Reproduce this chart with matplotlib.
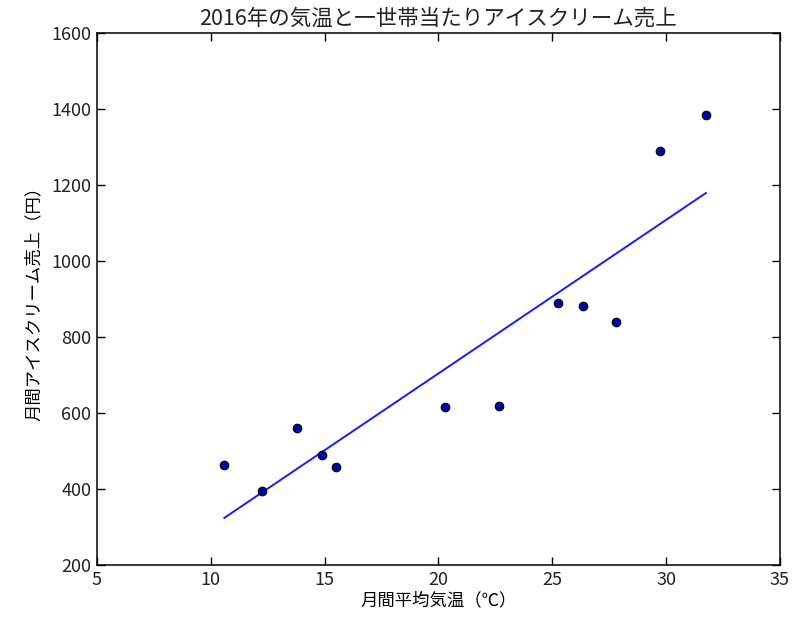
import matplotlib
matplotlib.use('Agg')
import matplotlib.pyplot as plt

plt.rcParams['font.family'] = ['Noto Sans CJK JP', 'DejaVu Sans']
plt.rcParams['text.color'] = '#222222'
plt.rcParams['xtick.labelcolor'] = '#222222'
plt.rcParams['ytick.labelcolor'] = '#222222'

# monthly mean temperature (C) and ice cream sales per household (yen), 2016
temps = [10.6, 12.25, 13.8, 14.9, 15.5, 20.3, 22.65, 25.25, 26.35, 27.8, 29.75, 31.75]
sales = [463, 395, 561, 490, 458, 616, 618, 889, 882, 839, 1289, 1384]

# regression line end points
fit_x = [10.6, 31.75]
fit_y = [324, 1179]

title = '2016年の気温と一世帯当たりアイスクリーム売上'
x_label = '月間平均気温（℃）'
y_label = '月間アイスクリーム売上（円）'

fig = plt.figure(figsize=(8.07, 6.17), dpi=100)
ax = fig.add_axes([0.120, 0.0843, 0.8465, 0.8622])

ax.scatter(temps, sales, s=38, color='#0000a8', edgecolors='black', linewidths=0.8, zorder=3)
ax.plot(fit_x, fit_y, color='#1a1aff', linewidth=1.4)

ax.set_xlim(5, 35)
ax.set_ylim(200, 1600)
ax.set_xticks(range(5, 36, 5))
ax.set_yticks(range(200, 1601, 200))

ax.tick_params(direction='in', top=True, right=True, length=6, width=1, labelsize=13, pad=4)
for s in ax.spines.values():
    s.set_linewidth(1.1)

ax.set_title(title, fontsize=15.5, pad=6)
ax.set_xlabel(x_label, fontsize=12.5, labelpad=2)
ax.set_ylabel(y_label, fontsize=12.5, labelpad=6)

fig.savefig('out.png', dpi=100)
